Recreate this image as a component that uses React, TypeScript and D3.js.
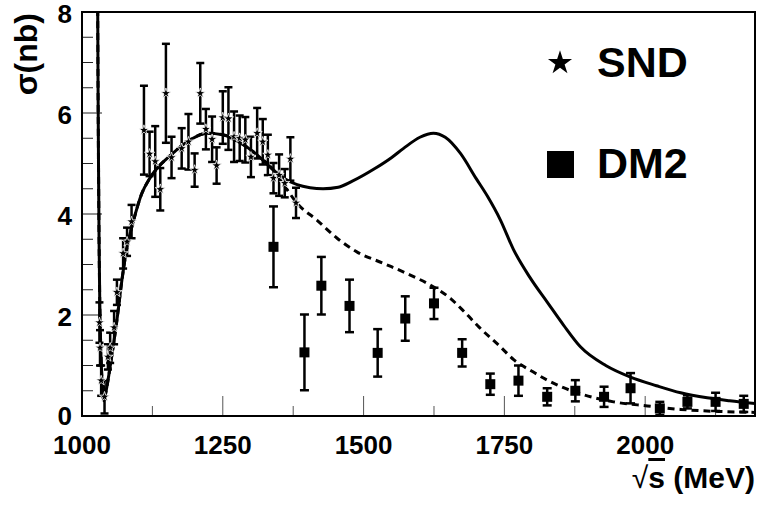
import React from "react";
import * as d3 from "d3";

// ---- data ----
const xTickValues = [1000, 1250, 1500, 1750, 2000];
const yTickValues = [0, 2, 4, 6, 8];

// SND: energy (MeV), cross section (nb), error
const sndE = [1031, 1032, 1034, 1040, 1046, 1050, 1057, 1062, 1073, 1080, 1088, 1110, 1120, 1130, 1139, 1149, 1159, 1177, 1189, 1200, 1210, 1220, 1231, 1239, 1250, 1260, 1270, 1280, 1290, 1300, 1311, 1321, 1330, 1340, 1350, 1360, 1370, 1380];
const sndSigma = [1.85, 1.35, 0.7, 0.38, 1.17, 1.35, 1.75, 2.45, 3.22, 3.45, 3.85, 5.66, 5.19, 5.04, 4.49, 6.39, 5.12, 5.3, 5.43, 4.87, 6.39, 5.68, 5.48, 4.96, 5.91, 5.89, 5.53, 5.5, 5.47, 5.13, 5.6, 5.43, 5.17, 4.71, 4.77, 4.61, 5.09, 4.22];
const sndErr = [0.4, 0.35, 0.3, 0.33, 0.25, 0.3, 0.33, 0.25, 0.3, 0.28, 0.33, 0.88, 0.44, 0.7, 0.42, 0.98, 0.41, 0.4, 0.55, 0.33, 0.6, 0.4, 0.45, 0.36, 0.52, 0.62, 0.5, 0.45, 0.45, 0.4, 0.5, 0.45, 0.4, 0.3, 0.41, 0.28, 0.43, 0.3];

// DM2
const dm2E = [1340, 1395, 1425, 1475, 1525, 1574, 1625, 1675, 1725, 1775, 1826, 1876, 1927, 1974, 2026, 2075, 2125, 2175];
const dm2Sigma = [3.35, 1.26, 2.58, 2.18, 1.25, 1.93, 2.23, 1.25, 0.63, 0.7, 0.38, 0.5, 0.38, 0.55, 0.15, 0.28, 0.28, 0.24];
const dm2Err = [0.8, 0.75, 0.57, 0.52, 0.47, 0.44, 0.31, 0.27, 0.21, 0.3, 0.17, 0.21, 0.2, 0.3, 0.13, 0.13, 0.18, 0.16];

// solid curve
const solidE = [1027.8, 1028.5, 1029.3, 1030.3, 1031.5, 1033.5, 1036, 1039, 1042, 1046, 1053, 1062, 1071, 1080, 1091, 1106, 1120, 1133, 1156, 1192, 1222, 1250, 1281, 1310, 1340, 1360, 1382, 1405, 1428, 1455, 1480, 1520, 1550, 1571, 1600, 1624, 1645, 1672, 1700, 1720, 1743, 1766, 1795, 1827, 1855, 1885, 1930, 1974, 2020, 2063, 2110, 2150, 2200];
const solidSigma = [8.3, 6.5, 5.0, 3.5, 2.3, 1.3, 0.6, 0.3, 0.45, 0.7, 1.2, 1.9, 2.7, 3.35, 3.85, 4.4, 4.7, 4.9, 5.15, 5.47, 5.6, 5.57, 5.41, 5.18, 4.87, 4.7, 4.58, 4.52, 4.5, 4.53, 4.65, 4.9, 5.12, 5.3, 5.52, 5.6, 5.52, 5.2, 4.7, 4.35, 3.88, 3.3, 2.75, 2.24, 1.8, 1.37, 1.0, 0.77, 0.6, 0.46, 0.36, 0.3, 0.24];

// dashed curve
const dashedE = [1027.8, 1028.5, 1029.3, 1030.3, 1031.5, 1033.5, 1036, 1039, 1042, 1046, 1053, 1062, 1071, 1080, 1091, 1106, 1120, 1133, 1156, 1192, 1222, 1250, 1281, 1310, 1340, 1360, 1382, 1417, 1453, 1488, 1536, 1583, 1619, 1654, 1680, 1705, 1743, 1767, 1800, 1826, 1855, 1885, 1944, 2004, 2063, 2130, 2199];
const dashedSigma = [8.3, 6.5, 5.0, 3.5, 2.3, 1.3, 0.6, 0.3, 0.45, 0.7, 1.2, 1.9, 2.7, 3.35, 3.85, 4.4, 4.7, 4.9, 5.15, 5.47, 5.6, 5.57, 5.41, 5.18, 4.87, 4.55, 4.21, 3.88, 3.52, 3.25, 3.02, 2.79, 2.59, 2.33, 2.05, 1.76, 1.37, 1.11, 0.88, 0.71, 0.56, 0.44, 0.28, 0.2, 0.13, 0.09, 0.07];

const W = 758;
const H = 507;
const L = 82, R = 755, T = 12, B = 416;
const FONT = "'Liberation Sans', Arial, Helvetica, sans-serif";

export default function App() {
  const x = d3.scaleLinear().domain([1000, 2195]).range([L, R]);
  const y = d3.scaleLinear().domain([0, 8]).range([B, T]);

  const line = d3
    .line<[number, number]>()
    .x((d) => x(d[0]))
    .y((d) => y(d[1]))
    .curve(d3.curveMonotoneX);

  const solidPts = solidE.map((e, i) => [e, solidSigma[i]] as [number, number]);
  const dashedPts = dashedE.map((e, i) => [e, dashedSigma[i]] as [number, number]);

  const xMinor = d3.range(1125, 2195, 250);
  const yMinor = d3.range(0.5, 8, 1).concat(d3.range(1, 8, 2));

  const starSmall = d3.symbol().type(d3.symbolStar).size(32)()!;
  const starBig = d3.symbol().type(d3.symbolStar).size(180)()!;

  const cap = 4;

  return (
    <svg
      width={W}
      height={H}
      style={{ position: "absolute", left: 0, top: 0, background: "#fff" }}
      fontFamily={FONT}
    >
      <defs>
        <clipPath id="plot">
          <rect x={L} y={T} width={R - L} height={B - T} />
        </clipPath>
      </defs>
      <rect x={0} y={0} width={W} height={H} fill="#fff" />

      {/* ticks */}
      {yTickValues.map((v) => (
        <line key={"ym" + v} x1={L} x2={L + 20} y1={y(v)} y2={y(v)} stroke="#222" strokeWidth={1} />
      ))}
      {yMinor.map((v) => (
        <line key={"yn" + v} x1={L} x2={L + 11} y1={y(v)} y2={y(v)} stroke="#222" strokeWidth={1} />
      ))}
      {xTickValues.map((v) => (
        <line key={"xm" + v} x1={x(v)} x2={x(v)} y1={B} y2={B - 20} stroke="#555" strokeWidth={1} />
      ))}
      {xMinor.map((v) => (
        <line key={"xn" + v} x1={x(v)} x2={x(v)} y1={B} y2={B - 10} stroke="#555" strokeWidth={1} />
      ))}

      <g clipPath="url(#plot)">
        {/* curves */}
        <path d={line(dashedPts)!} fill="none" stroke="#000" strokeWidth={3} strokeDasharray="7,5" />
        <path d={line(solidPts)!} fill="none" stroke="#000" strokeWidth={3} />

        {/* DM2 */}
        {dm2E.map((e, i) => {
          const cx = x(e);
          const y1 = y(dm2Sigma[i] + dm2Err[i]);
          const y0 = y(Math.max(0, dm2Sigma[i] - dm2Err[i]));
          return (
            <g key={"d" + i}>
              <line x1={cx} x2={cx} y1={y1} y2={y0} stroke="#000" strokeWidth={2.5} />
              <line x1={cx - 4.5} x2={cx + 4.5} y1={y1} y2={y1} stroke="#000" strokeWidth={2.5} />
              <line x1={cx - 4.5} x2={cx + 4.5} y1={y0} y2={y0} stroke="#000" strokeWidth={2.5} />
              <rect x={cx - 5} y={y(dm2Sigma[i]) - 5} width={10} height={10} fill="#000" />
            </g>
          );
        })}

        {/* SND */}
        {sndE.map((e, i) => {
          const cx = x(e);
          const y1 = y(sndSigma[i] + sndErr[i]);
          const y0 = y(Math.max(0, sndSigma[i] - sndErr[i]));
          return (
            <g key={"s" + i}>
              <line x1={cx} x2={cx} y1={y1} y2={y0} stroke="#000" strokeWidth={2.5} />
              <line x1={cx - cap} x2={cx + cap} y1={y1} y2={y1} stroke="#000" strokeWidth={2.5} />
              <line x1={cx - cap} x2={cx + cap} y1={y0} y2={y0} stroke="#000" strokeWidth={2.5} />
            </g>
          );
        })}
        {sndE.map((e, i) => (
          <path
            key={"st" + i}
            d={starSmall}
            transform={`translate(${x(e)},${y(sndSigma[i])})`}
            fill="#000"
            stroke="#fff"
            strokeWidth={0.8}
          />
        ))}
      </g>

      {/* frame */}
      <rect x={L} y={T} width={R - L} height={B - T} fill="none" stroke="#000" strokeWidth={2} />

      {/* tick labels */}
      {yTickValues.map((v) => (
        <text
          key={"yl" + v}
          x={L - 10}
          y={y(v) + (v === 0 ? 8.5 : 11)}
          textAnchor="end"
          fontSize={26}
          fontWeight="bold"
        >
          {v}
        </text>
      ))}
      {xTickValues.map((v) => (
        <text key={"xl" + v} x={x(v)} y={454} textAnchor="middle" fontSize={26} fontWeight="bold">
          {v}
        </text>
      ))}

      {/* axis titles */}
      <text x={R} y={488} textAnchor="end" fontSize={30} fontWeight="bold">
        <tspan fontWeight="normal">√</tspan>
        <tspan style={{ textDecoration: "overline" }}>s</tspan>
        <tspan> (MeV)</tspan>
      </text>
      <text
        transform={`translate(37,13) rotate(-90)`}
        textAnchor="end"
        fontSize={32}
        fontWeight="bold"
      >
        σ(nb)
      </text>

      {/* legend */}
      <path d={starBig} transform="translate(560,63)" fill="#000" />
      <text x={597} y={77} fontSize={43} fontWeight="bold">
        SND
      </text>
      <rect x={547} y={151} width={27} height={27} fill="#000" />
      <text x={597} y={178} fontSize={43} fontWeight="bold">
        DM2
      </text>
    </svg>
  );
}
